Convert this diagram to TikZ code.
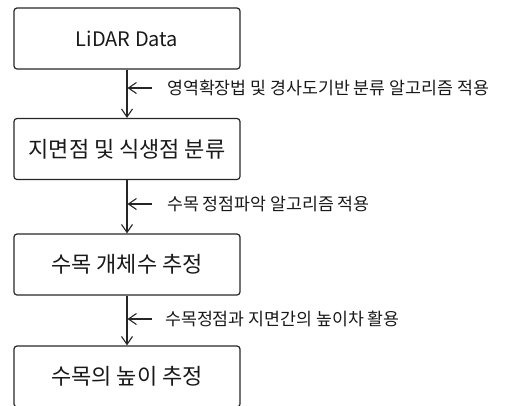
\documentclass[tikz,border=0pt]{standalone}
\usepackage{fontspec}
\setmainfont{Noto Sans CJK KR}
\usetikzlibrary{arrows.meta}
\tikzset{
  stepbox/.style={draw=black!85, line width=1.2pt, rounded corners=3pt, minimum width=226pt, minimum height=61pt, inner sep=0pt, font=\fontsize{22}{26}\selectfont, text=black!90},
  flow/.style={draw=black!85, line width=1.1pt, -{Straight Barb[length=8pt,width=11pt,line width=1.1pt]}},
  note/.style={anchor=west, inner sep=0pt, font=\fontsize{17.3}{21}\selectfont, text=black!90},
}
\begin{document}
\begin{tikzpicture}[x=1pt,y=-1pt]
\useasboundingbox (0,0) rectangle (513,405);
\node[stepbox] (b1) at (127,38.5) {\fontsize{20}{24}\selectfont LiDAR Data};
\node[stepbox] (b2) at (127,149) {지면점 및 식생점 분류};
\node[stepbox] (b3) at (127,264.5) {수목 개체수 추정};
\node[stepbox] (b4) at (127,376.5) {수목의 높이 추정};
\draw[flow] (b1) -- (b2);
\draw[flow] (b2) -- (b3);
\draw[flow] (b3) -- (b4);
\coordinate (s1) at (152,88);
\coordinate (e1) at (127.5,88);
\coordinate (s2) at (152,204);
\coordinate (e2) at (127.5,204);
\coordinate (s3) at (152,319);
\coordinate (e3) at (127.5,319);
\draw[flow] (s1) -- (e1);
\draw[flow] (s2) -- (e2);
\draw[flow] (s3) -- (e3);
\node[note] (n1) at (167,88) {영역확장법 및 경사도기반 분류 알고리즘 적용};
\node[note] (n2) at (167,204) {수목 정점파악 알고리즘 적용};
\node[note] (n3) at (165,319) {수목정점과 지면간의 높이차 활용};
\end{tikzpicture}
\end{document}
